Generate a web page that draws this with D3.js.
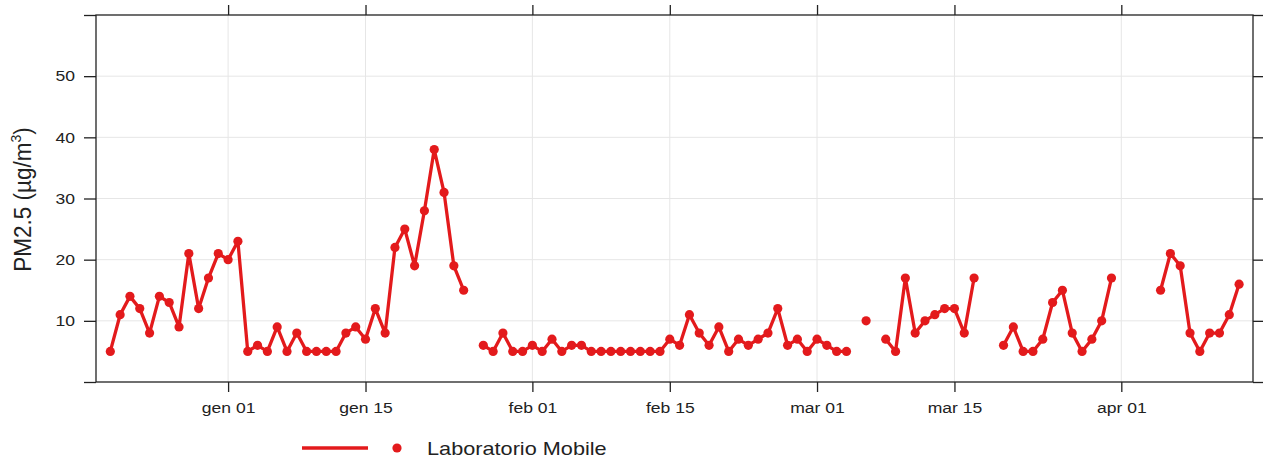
<!DOCTYPE html>
<meta charset="utf-8">
<style>
body { margin: 0; background: #fff; font-family: "Liberation Sans", Arial, sans-serif; }
.grid line { stroke: #e6e6e6; stroke-width: 1px; }
.axis path { display: none; }
.axis line { stroke: #222; stroke-width: 1.3px; }
.axis text { fill: #222; font-size: 15px; font-family: "Liberation Sans", Arial, sans-serif; }
</style>
<body>
<script src="https://d3js.org/d3.v7.min.js"></script>
<script>
// daily PM2.5 from the mobile lab, first day 2023-12-20, null = no data
var startDay = "2023-12-20";
var pm25 = [
  5, 11, 14, 12, 8, 14, 13, 9, 21, 12, 17, 21,          // dic 20-31
  20, 23, 5, 6, 5, 9, 5, 8, 5, 5, 5, 5, 8, 9, 7, 12,     // gen 01-16
  8, 22, 25, 19, 28, 38, 31, 19, 15, null, 6, 5, 8, 5, 5, // gen 17-31
  6, 5, 7, 5, 6, 6, 5, 5, 5, 5, 5, 5, 5, 5,              // feb 01-14
  7, 6, 11, 8, 6, 9, 5, 7, 6, 7, 8, 12, 6, 7, 5,         // feb 15-29
  7, 6, 5, 5, null, 10, null, 7, 5, 17, 8, 10, 11, 12, 12, 8, 17, // mar 01-17
  null, null, 6, 9, 5, 5, 7, 13, 15, 8, 5, 7, 10, 17,    // mar 18-31
  null, null, null, null, 15, 21, 19, 8, 5, 8, 8, 11, 16 // apr 01-13
];
var tickDays = ["2024-01-01", "2024-01-15", "2024-02-01", "2024-02-15", "2024-03-01", "2024-03-15", "2024-04-01"];
var tickLabels = ["gen 01", "gen 15", "feb 01", "feb 15", "mar 01", "mar 15", "apr 01"];
var yTicks = [0, 10, 20, 30, 40, 50, 60];
var seriesName = "Laboratorio Mobile";
var red = "#e31a1c";

var width = 1263, height = 459;
var margin = {top: 15, right: 10, bottom: 77, left: 96};
var padDays = 1.43;

var parse = d3.utcParse("%Y-%m-%d");
var days = d3.utcDay.range(parse(startDay), d3.utcDay.offset(parse(startDay), pm25.length));
var data = days.map(function(d, i) { return {date: d, v: pm25[i]}; });
var ticks = tickDays.map(parse);

var x = d3.scaleUtc()
    .domain([d3.utcHour.offset(days[0], -padDays * 24), d3.utcHour.offset(days[days.length - 1], padDays * 24)])
    .range([margin.left, width - margin.right]);
var y = d3.scaleLinear()
    .domain([0, 60])
    .range([height - margin.bottom, margin.top]);

var svg = d3.select("body").append("svg")
    .attr("width", width)
    .attr("height", height);

// grid
var grid = svg.append("g").attr("class", "grid");
grid.selectAll(".h").data([10, 20, 30, 40, 50]).enter().append("line")
    .attr("x1", x.range()[0]).attr("x2", x.range()[1])
    .attr("y1", y).attr("y2", y);
grid.selectAll(".v").data(ticks).enter().append("line")
    .attr("x1", x).attr("x2", x)
    .attr("y1", y.range()[0]).attr("y2", y.range()[1]);

// axes on all four sides, labels only bottom / left
var xb = svg.append("g").attr("class", "axis")
    .attr("transform", "translate(0," + y(0) + ")")
    .call(d3.axisBottom(x).tickValues(ticks).tickSize(10).tickPadding(10)
      .tickFormat(function(d, i) { return tickLabels[i]; }));
xb.selectAll("text").attr("transform", "scale(1.17,1)");

svg.append("g").attr("class", "axis")
    .attr("transform", "translate(0," + y(60) + ")")
    .call(d3.axisTop(x).tickValues(ticks).tickSize(10).tickFormat(""));

var yl = svg.append("g").attr("class", "axis")
    .attr("transform", "translate(" + x.range()[0] + ",0)")
    .call(d3.axisLeft(y).tickValues(yTicks).tickSize(12).tickPadding(6)
      .tickFormat(function(d) { return d > 0 && d < 60 ? d : ""; }));
yl.selectAll("text").attr("transform", "scale(1.17,1)");

svg.append("g").attr("class", "axis")
    .attr("transform", "translate(" + x.range()[1] + ",0)")
    .call(d3.axisRight(y).tickValues(yTicks).tickSize(12).tickFormat(""));

svg.append("rect")
    .attr("x", x.range()[0]).attr("y", y.range()[1])
    .attr("width", x.range()[1] - x.range()[0])
    .attr("height", y.range()[0] - y.range()[1])
    .attr("fill", "none").attr("stroke", "#222").attr("stroke-width", 1.3);

// y label
var ylab = svg.append("text")
    .attr("transform", "translate(31," + (y(30) + 1) + ") rotate(-90) scale(1,1.1)")
    .attr("text-anchor", "middle")
    .attr("font-size", 22.5)
    .attr("fill", "#222");
ylab.append("tspan").text("PM2.5 (\u00b5g/m");
ylab.append("tspan").attr("font-size", 14).attr("dy", -9).text("3");
ylab.append("tspan").attr("dy", 9).text(")");

// series
var line = d3.line()
    .defined(function(d) { return d.v != null; })
    .x(function(d) { return x(d.date); })
    .y(function(d) { return y(d.v); });

svg.append("path")
    .datum(data)
    .attr("fill", "none")
    .attr("stroke", red)
    .attr("stroke-width", 3.3)
    .attr("stroke-linejoin", "round")
    .attr("d", line);

svg.selectAll(".pt")
    .data(data.filter(function(d) { return d.v != null; }))
  .enter().append("circle")
    .attr("class", "pt")
    .attr("cx", function(d) { return x(d.date); })
    .attr("cy", function(d) { return y(d.v); })
    .attr("r", 4.6)
    .attr("fill", red);

// legend
var lg = svg.append("g").attr("transform", "translate(302,448)");
lg.append("line").attr("x1", 0).attr("x2", 66).attr("stroke", red).attr("stroke-width", 3.5);
lg.append("circle").attr("cx", 95).attr("r", 4.6).attr("fill", red);
lg.append("text")
    .attr("transform", "translate(125,6.5) scale(1.24,1)")
    .attr("font-size", 17.5)
    .attr("fill", "#222")
    .text(seriesName);
</script>
</body>
